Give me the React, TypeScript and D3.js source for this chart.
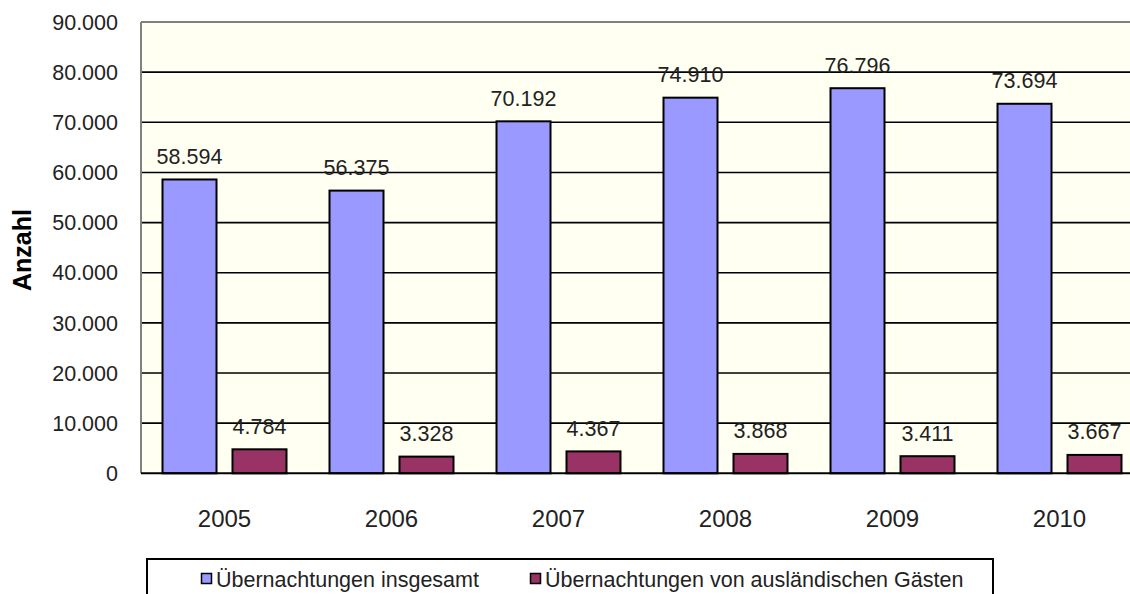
import React from "react";
import * as d3 from "d3";

const years = ["2005", "2006", "2007", "2008", "2009", "2010"];
const seriesNames = ["Übernachtungen insgesamt", "Übernachtungen von ausländischen Gästen"];
const totalValues = [58594, 56375, 70192, 74910, 76796, 73694];
const foreignValues = [4784, 3328, 4367, 3868, 3411, 3667];
const yTicks = [0, 10000, 20000, 30000, 40000, 50000, 60000, 70000, 80000, 90000];
const colors = ["#9999FF", "#993366"];

const W = 1130;
const H = 594;
const left = 141;
const top = 22;
const bottom = 473.3;
const right = 141 + 6 * 167;

const font = "'Liberation Sans', Arial, Helvetica, sans-serif";

export default function App() {
  const locale = d3.formatLocale({ decimal: ",", thousands: ".", grouping: [3], currency: ["", "€"] });
  const fmt = locale.format(",d");
  const y = d3.scaleLinear().domain([0, 90000]).range([bottom, top]);
  const x0 = d3.scaleBand<string>().domain(years).range([left, right]).padding(0);
  const x1 = d3
    .scaleBand<number>()
    .domain([0, 1])
    .range([0, x0.bandwidth()])
    .paddingInner(0.2)
    .paddingOuter(0.293);
  const series = [totalValues, foreignValues];

  return (
    <svg width={W} height={H} style={{ position: "absolute", left: 0, top: 0, background: "#fff" }} fontFamily={font}>
      <rect x={left} y={top} width={right - left} height={bottom - top} fill="#FFFFF2" />
      {yTicks.slice(1, -1).map((t) => (
        <line key={t} x1={left} x2={right} y1={y(t)} y2={y(t)} stroke="#000" strokeWidth={1.6} />
      ))}
      <line x1={left} x2={right} y1={top} y2={top} stroke="#808080" strokeWidth={2} />
      <line x1={left} x2={left} y1={top} y2={bottom} stroke="#808080" strokeWidth={2} />
      {series.map((vals, si) =>
        years.map((yr, i) => {
          const bx = (x0(yr) as number) + (x1(si) as number);
          const bw = x1.bandwidth();
          return (
            <g key={yr + si}>
              <rect
                x={bx + 1}
                y={y(vals[i])}
                width={bw - 2}
                height={bottom - y(vals[i])}
                fill={colors[si]}
                stroke="#000"
                strokeWidth={2}
              />
            </g>
          );
        })
      )}
      <line x1={left} x2={right} y1={bottom} y2={bottom} stroke="#000" strokeWidth={2} />
      {series.map((vals, si) =>
        years.map((yr, i) => {
          const bx = (x0(yr) as number) + (x1(si) as number);
          const bw = x1.bandwidth();
          return (
            <text
              key={"l" + yr + si}
              x={bx + bw / 2}
              y={y(vals[i]) - 15.5}
              textAnchor="middle"
              fontSize={21.5}
              fill="#222"
            >
              {fmt(vals[i])}
            </text>
          );
        })
      )}
      {yTicks.map((t) => (
        <text key={"t" + t} x={118} y={y(t) + 7.7} textAnchor="end" fontSize={21.5} fill="#222">
          {fmt(t)}
        </text>
      ))}
      {years.map((yr) => (
        <text
          key={"x" + yr}
          x={(x0(yr) as number) + x0.bandwidth() / 2}
          y={526.5}
          textAnchor="middle"
          fontSize={24}
          fill="#222"
        >
          {yr}
        </text>
      ))}
      <text
        transform={`translate(31,250) rotate(-90)`}
        textAnchor="middle"
        fontSize={25}
        fontWeight="bold"
        fill="#000"
      >
        Anzahl
      </text>
      <rect x={147} y={559} width={846} height={60} fill="#fff" stroke="#000" strokeWidth={2} />
      <rect x={201.5} y={573.5} width={10} height={10} fill={colors[0]} stroke="#000" strokeWidth={1.5} />
      <text x={216} y={587} fontSize={21.5} fill="#222">
        {seriesNames[0]}
      </text>
      <rect x={530.5} y={573.5} width={10} height={10} fill={colors[1]} stroke="#000" strokeWidth={1.5} />
      <text x={545} y={587} fontSize={21.5} fill="#222">
        {seriesNames[1]}
      </text>
    </svg>
  );
}
